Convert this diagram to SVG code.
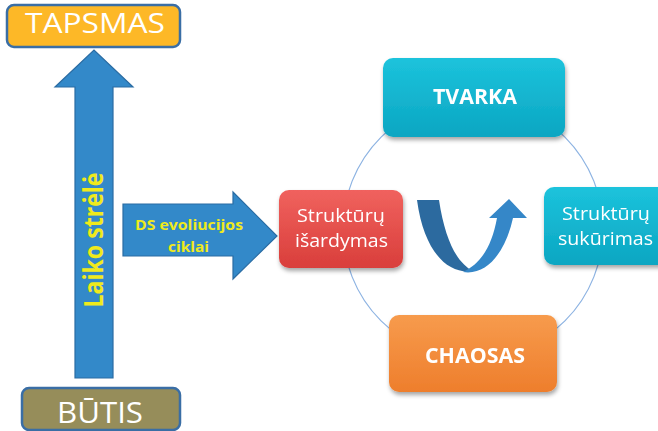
<svg xmlns="http://www.w3.org/2000/svg" width="658" height="431" viewBox="0 0 658 431">
<style>
.lbl{font-family:"Open Sans","Liberation Sans",sans-serif;fill:#fff;text-anchor:middle}
.b{font-weight:bold}
.yel{font-family:"Open Sans","Liberation Sans",sans-serif;font-weight:bold;fill:#EFEA1C;text-anchor:middle}
.arrow{fill:#3389C9;stroke:#2A6CA3;stroke-width:1.2}
.ring{fill:none;stroke:#8DB3E2;stroke-width:1.2}
</style>
<defs>
<linearGradient id="gRed" x1="0" y1="0" x2="0" y2="1"><stop offset="0" stop-color="#F0625E"/><stop offset="1" stop-color="#D93E3B"/></linearGradient>
<linearGradient id="gTeal" x1="0" y1="0" x2="0" y2="1"><stop offset="0" stop-color="#1CC3DC"/><stop offset="1" stop-color="#0BA6C2"/></linearGradient>
<linearGradient id="gOr" x1="0" y1="0" x2="0" y2="1"><stop offset="0" stop-color="#F79B4D"/><stop offset="1" stop-color="#EE7E2C"/></linearGradient>
<filter id="sh" x="-10%" y="-10%" width="130%" height="140%"><feDropShadow dx="1" dy="3" stdDeviation="2" flood-color="#000" flood-opacity="0.35"/></filter>
</defs>

<g id="connectors">
<circle class="ring" cx="473" cy="229" r="130"/>
<path d="M417,200 L439,200 C445,240 457,263 473,271 C448,275 424,252 417,200 Z" fill="#2C6A9F"/>
<path d="M463,272 C488,276 506,250 513,218 L527,218 L509,199 L489,218 L497,218 C492,245 482,263 463,272 Z" fill="#3587C8"/>
</g>

<g id="tapsmas">
<rect x="7" y="5" width="173" height="42" rx="7" fill="#FDB827" stroke="#3A6EA5" stroke-width="2.5"/>
<text class="lbl" x="95" y="33" font-size="28" textLength="140" lengthAdjust="spacingAndGlyphs">TAPSMAS</text>
</g>

<g id="butis">
<rect x="22" y="388" width="158" height="42" rx="7" fill="#968D5A" stroke="#3A6EA5" stroke-width="2.5"/>
<text class="lbl" x="100" y="423" font-size="29" textLength="86" lengthAdjust="spacingAndGlyphs">BŪTIS</text>
</g>

<g id="laiko-strele">
<path class="arrow" d="M75,378 L75,87 L55,87 L94,50 L133,87 L113,87 L113,378 Z"/>
<text class="yel" transform="translate(103,240) rotate(-90)" font-size="26" textLength="135" lengthAdjust="spacingAndGlyphs">Laiko strėlė</text>
</g>

<g id="ds-ciklai">
<path class="arrow" d="M123,204 L233,204 L233,192 L277,236 L233,279 L233,256 L123,256 Z"/>
<text class="yel" x="189" y="230" font-size="15" textLength="108" lengthAdjust="spacingAndGlyphs">DS evoliucijos</text>
<text class="yel" x="188.5" y="252" font-size="15" textLength="41" lengthAdjust="spacingAndGlyphs">ciklai</text>
</g>

<g id="isardymas" filter="url(#sh)">
<rect x="279" y="190" width="124" height="78" rx="10" fill="url(#gRed)"/>
<text class="lbl" x="341" y="222" font-size="19" textLength="88" lengthAdjust="spacingAndGlyphs">Struktūrų</text>
<text class="lbl" x="341.5" y="247" font-size="19" textLength="93" lengthAdjust="spacingAndGlyphs">išardymas</text>
</g>

<g id="tvarka" filter="url(#sh)">
<rect x="383" y="58" width="182" height="79" rx="10" fill="url(#gTeal)"/>
<text class="lbl b" x="475" y="104" font-size="21" textLength="84" lengthAdjust="spacingAndGlyphs">TVARKA</text>
</g>

<g id="sukurimas" filter="url(#sh)">
<rect x="544" y="187" width="140" height="78" rx="10" fill="url(#gTeal)"/>
<text class="lbl" x="606" y="220" font-size="19" textLength="88" lengthAdjust="spacingAndGlyphs">Struktūrų</text>
<text class="lbl" x="605.5" y="245" font-size="19" textLength="95" lengthAdjust="spacingAndGlyphs">sukūrimas</text>
</g>

<g id="chaosas" filter="url(#sh)">
<rect x="389" y="315" width="168" height="77" rx="10" fill="url(#gOr)"/>
<text class="lbl b" x="475" y="363" font-size="21" textLength="100" lengthAdjust="spacingAndGlyphs">CHAOSAS</text>
</g>
</svg>
